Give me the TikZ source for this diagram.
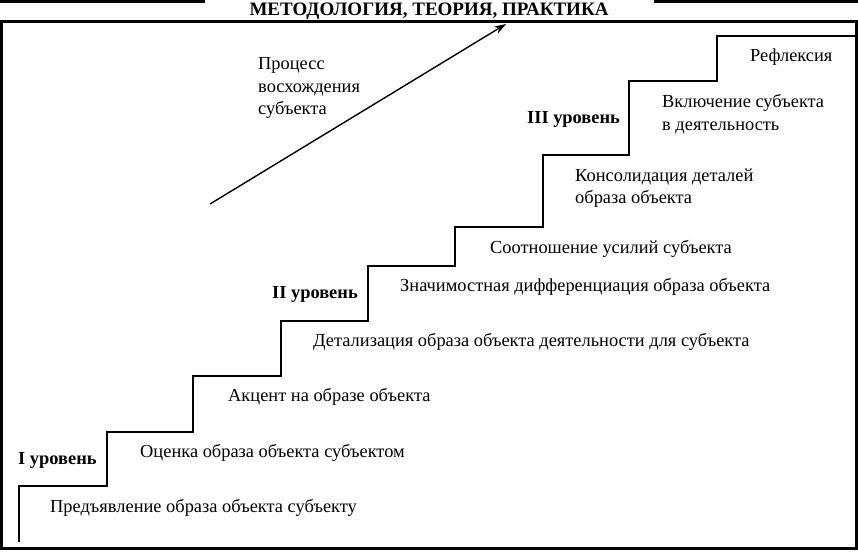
\documentclass[tikz,border=0pt]{standalone}
\usepackage{fontspec}
\setmainfont{Liberation Serif}
\usetikzlibrary{arrows.meta}
\begin{document}
\begin{tikzpicture}[x=1pt,y=-1pt,
  lbl/.style={anchor=west,inner sep=0pt,font=\fontsize{18.4}{22.5}\selectfont,align=left,yshift=-2pt},
  lvl/.style={anchor=west,inner sep=0pt,font=\fontsize{18.4}{22}\selectfont\bfseries,yshift=-2pt},
  stair/.style={line width=2pt,line join=miter},
  frame/.style={line width=3pt}]
\useasboundingbox (0,0) rectangle (858,551);
% header
\draw[frame] (0,1.5) -- (205,1.5);
\draw[frame] (654,1.5) -- (858,1.5);
\node[inner sep=0pt,font=\fontsize{19}{24}\selectfont\bfseries,xscale=1.0] (title) at (429,11.5) {МЕТОДОЛОГИЯ,\ ТЕОРИЯ,\ ПРАКТИКА};
% frame
\draw[frame] (1.5,21.5) rectangle (856.5,548.5);
% staircase
\draw[stair] (19,542) -- (19,486) -- (107,486) -- (107,432) -- (193,432) -- (193,376)
  -- (281,376) -- (281,321) -- (368,321) -- (368,266) -- (455,266) -- (455,227)
  -- (543,227) -- (543,155) -- (629,155) -- (629,81) -- (717,81) -- (717,36) -- (855,36);
% arrow
\coordinate (as) at (210,204);
\coordinate (ae) at (506,24);
\draw[line width=1.4pt,-{Stealth[length=12pt,width=8pt]}] (as) -- (ae);
\node[lbl] (proc) at (258,86) {Процесс\\восхождения\\субъекта};
% labels
\node[lbl] (t9) at (750,55) {Рефлексия};
\node[lbl] (t8) at (662,112) {Включение субъекта\\в деятельность};
\node[lvl] (l3) at (527,117) {III уровень};
\node[lbl] (t7) at (575,186) {Консолидация деталей\\образа объекта};
\node[lbl] (t6) at (490,247) {Соотношение усилий субъекта};
\node[lbl] (t5) at (400,285) {Значимостная дифференциация образа объекта};
\node[lvl] (l2) at (272,292) {II уровень};
\node[lbl] (t4) at (313,340) {Детализация образа объекта деятельности для субъекта};
\node[lbl] (t3) at (228,395) {Акцент на образе объекта};
\node[lbl] (t2) at (140,451) {Оценка образа объекта субъектом};
\node[lvl] (l1) at (18,458) {I уровень};
\node[lbl] (t1) at (50,506) {Предъявление образа объекта субъекту};
\end{tikzpicture}
\end{document}
